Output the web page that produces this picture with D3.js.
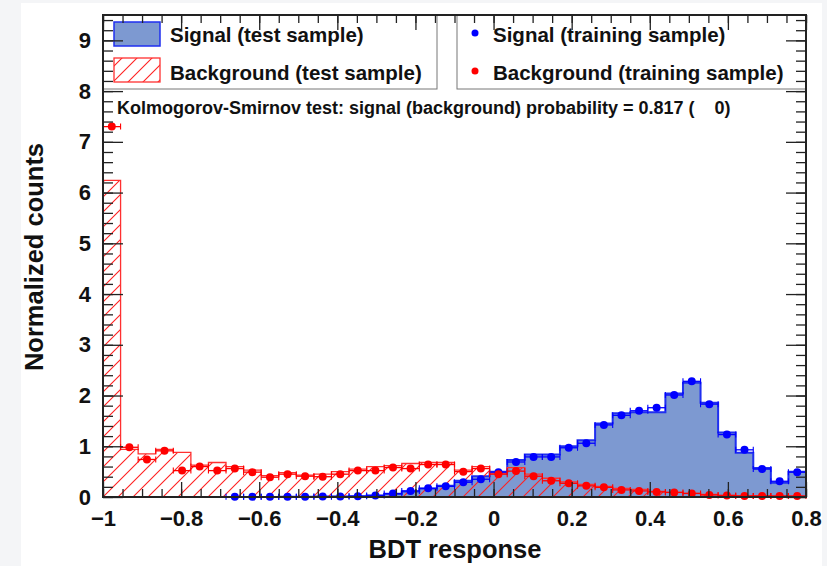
<!DOCTYPE html>
<html>
<head>
<meta charset="utf-8">
<title>BDT response</title>
<script src="https://d3js.org/d3.v7.min.js"></script>
<style>
  body { margin: 0; background: #f4f5f7; }
  svg { display: block; font-family: "Liberation Sans", Arial, sans-serif; }
  .tick text { font-weight: bold; font-size: 22px; fill: #111; }
  .tick line { stroke: #222; stroke-width: 1.3; }
  .domain { display: none; }
</style>
</head>
<body>
<script>
// 40 bins from -1 to 0.8
var xMin = -1, xMax = 0.8, nBins = 40;

var sigTest = [0, 0, 0, 0, 0, 0, 0, 0, 0, 0,
  0.003, 0.005, 0.008, 0.01, 0.015, 0.03, 0.06, 0.11, 0.17, 0.22,
  0.32, 0.41, 0.50, 0.73, 0.84, 0.84, 1.00, 1.12, 1.45, 1.65,
  1.67, 1.67, 2.04, 2.25, 1.86, 1.27, 0.87, 0.57, 0.28, 0.50];

var bgTest = [6.24, 0.94, 0.85, 0.94, 0.88, 0.63, 0.68, 0.60, 0.53, 0.42,
  0.48, 0.43, 0.45, 0.50, 0.55, 0.60, 0.62, 0.66, 0.68, 0.68,
  0.53, 0.60, 0.47, 0.58, 0.45, 0.37, 0.30, 0.25, 0.21, 0.17,
  0.15, 0.11, 0.09, 0.07, 0.05, 0.03, 0.02, 0.02, 0.01, 0.01];

var sigTrain = [null, null, null, null, null, null, null, 0.003, 0.003, 0.004,
  0.005, 0.006, 0.008, 0.01, 0.015, 0.03, 0.07, 0.12, 0.17, 0.21,
  0.29, 0.35, 0.49, 0.69, 0.79, 0.79, 0.97, 1.06, 1.42, 1.61,
  1.70, 1.76, 2.01, 2.28, 1.83, 1.23, 0.93, 0.55, 0.31, 0.49];

var bgTrain = [7.30, 0.98, 0.74, 0.91, 0.52, 0.60, 0.52, 0.56, 0.49, 0.39,
  0.45, 0.41, 0.40, 0.45, 0.52, 0.52, 0.58, 0.56, 0.64, 0.64,
  0.50, 0.56, 0.45, 0.51, 0.41, 0.32, 0.27, 0.22, 0.19, 0.14,
  0.12, 0.10, 0.09, 0.07, 0.04, 0.03, 0.02, 0.02, 0.02, 0.02];

var xTicks = [-1, -0.8, -0.6, -0.4, -0.2, 0, 0.2, 0.4, 0.6, 0.8];
var yTicks = [0, 1, 2, 3, 4, 5, 6, 7, 8, 9];

var ksText = "Kolmogorov-Smirnov test: signal (background) probability = 0.817 (    0)";

var width = 827, height = 566;
var pL = 103, pR = 806, pT = 15, pB = 497;

var svg = d3.select("body").append("svg")
    .attr("width", width)
    .attr("height", height);

svg.append("rect")
    .attr("x", 21).attr("y", 3)
    .attr("width", 801).attr("height", 563)
    .attr("fill", "white");

var x = d3.scaleLinear().domain([xMin, xMax]).range([pL, pR]);
var y = d3.scaleLinear().domain([0, 9.5]).range([pB, pT]);

var binW = (xMax - xMin) / nBins;
var edge = function(i) { return xMin + i * binW; };

// hatch pattern for background
var defs = svg.append("defs");
var pat = defs.append("pattern")
    .attr("id", "hatch")
    .attr("patternUnits", "userSpaceOnUse")
    .attr("width", 15).attr("height", 15);
pat.append("path")
    .attr("d", "M-2,17 L17,-2 M-2,2 L2,-2 M13,17 L17,13")
    .attr("stroke", "#ff2020")
    .attr("stroke-width", 1.1)
    .attr("fill", "none");

function stepPoints(vals) {
  var pts = [[edge(0), 0]];
  vals.forEach(function(v, i) {
    pts.push([edge(i), v]);
    pts.push([edge(i + 1), v]);
  });
  pts.push([edge(nBins), 0]);
  return pts;
}

var line = d3.line()
    .x(function(d) { return x(d[0]); })
    .y(function(d) { return y(d[1]); });

var plot = svg.append("g");

// signal test histogram
plot.append("path")
    .attr("d", line(stepPoints(sigTest)))
    .attr("fill", "#7d99d1")
    .attr("stroke", "#1f2ff0")
    .attr("stroke-width", 2);

// background test histogram
plot.append("path")
    .attr("d", line(stepPoints(bgTest)))
    .attr("fill", "url(#hatch)")
    .attr("stroke", "#ff3030")
    .attr("stroke-width", 1.3);

// training points
function drawPoints(vals, color) {
  var data = vals.map(function(v, i) { return {i: i, v: v}; })
      .filter(function(d) { return d.v !== null; });
  var g = plot.append("g").selectAll("g")
      .data(data).enter().append("g");
  g.append("line")
      .attr("x1", function(d) { return x(edge(d.i)); })
      .attr("x2", function(d) { return x(edge(d.i + 1)); })
      .attr("y1", function(d) { return y(d.v); })
      .attr("y2", function(d) { return y(d.v); })
      .attr("stroke", color).attr("stroke-width", 1.3);
  [0, 1].forEach(function(k) {
    g.append("line")
        .attr("x1", function(d) { return x(edge(d.i + k)); })
        .attr("x2", function(d) { return x(edge(d.i + k)); })
        .attr("y1", function(d) { return y(d.v) - 3; })
        .attr("y2", function(d) { return y(d.v) + 3; })
        .attr("stroke", color).attr("stroke-width", 1.1);
  });
  g.append("circle")
      .attr("cx", function(d) { return x(edge(d.i) + binW / 2); })
      .attr("cy", function(d) { return y(d.v); })
      .attr("r", 4)
      .attr("fill", color);
}
drawPoints(sigTrain, "#0000ff");
drawPoints(bgTrain, "#ff0000");

// legends (ticks are drawn over them afterwards)
var leg = svg.append("g");
leg.append("rect").attr("x", pL).attr("y", pT).attr("width", 334).attr("height", 74)
    .attr("fill", "white").attr("stroke", "#777").attr("stroke-width", 1);
leg.append("rect").attr("x", 457).attr("y", pT).attr("width", pR - 457).attr("height", 74)
    .attr("fill", "white").attr("stroke", "#777").attr("stroke-width", 1);

leg.append("rect").attr("x", 114).attr("y", 22).attr("width", 46).attr("height", 24)
    .attr("fill", "#7d99d1").attr("stroke", "#1f2ff0").attr("stroke-width", 1.5);
leg.append("rect").attr("x", 114).attr("y", 58).attr("width", 46).attr("height", 24)
    .attr("fill", "url(#hatch)").attr("stroke", "#ff3030").attr("stroke-width", 1.3);
leg.append("circle").attr("cx", 475).attr("cy", 33).attr("r", 3.5).attr("fill", "#0000ff");
leg.append("circle").attr("cx", 475).attr("cy", 71).attr("r", 3.5).attr("fill", "#ff0000");

var legText = [
  ["Signal (test sample)", 170, 42],
  ["Background (test sample)", 170, 80],
  ["Signal (training sample)", 493, 42],
  ["Background (training sample)", 493, 80]
];
leg.selectAll(".lt").data(legText).enter().append("text")
    .attr("class", "lt")
    .attr("x", function(d) { return d[1]; })
    .attr("y", function(d) { return d[2]; })
    .attr("font-size", 20.5)
    .attr("font-weight", "bold")
    .attr("fill", "#111")
    .text(function(d) { return d[0]; });

// axes, ticks inside the frame
var xMinor = d3.range(0, 37).map(function(i) { return -1 + i * 0.05; });
var yMinor = d3.range(0, 48).map(function(i) { return i * 0.2; });

svg.append("g").attr("transform", "translate(0," + pB + ")")
    .call(d3.axisBottom(x).tickValues(xMinor).tickSize(-8).tickFormat(""));
svg.append("g").attr("transform", "translate(0," + pB + ")")
    .call(d3.axisBottom(x).tickValues(xTicks).tickSize(-15).tickPadding(13).tickFormat(d3.format("")));
svg.append("g").attr("transform", "translate(0," + pT + ")")
    .call(d3.axisTop(x).tickValues(xMinor).tickSize(-8).tickFormat(""));
svg.append("g").attr("transform", "translate(0," + pT + ")")
    .call(d3.axisTop(x).tickValues(xTicks).tickSize(-15).tickFormat(""));

svg.append("g").attr("transform", "translate(" + pL + ",0)")
    .call(d3.axisLeft(y).tickValues(yMinor).tickSize(-10).tickFormat(""));
svg.append("g").attr("transform", "translate(" + pL + ",0)")
    .call(d3.axisLeft(y).tickValues(yTicks).tickSize(-20).tickPadding(12).tickFormat(d3.format("d")));
svg.append("g").attr("transform", "translate(" + pR + ",0)")
    .call(d3.axisRight(y).tickValues(yMinor).tickSize(-10).tickFormat(""));
svg.append("g").attr("transform", "translate(" + pR + ",0)")
    .call(d3.axisRight(y).tickValues(yTicks).tickSize(-20).tickFormat(""));

// frame
svg.append("rect")
    .attr("x", pL).attr("y", pT)
    .attr("width", pR - pL).attr("height", pB - pT)
    .attr("fill", "none")
    .attr("stroke", "#222")
    .attr("stroke-width", 2);

svg.append("text")
    .attr("x", 117).attr("y", 114)
    .attr("font-size", 18)
    .attr("font-weight", "bold")
    .attr("fill", "#111")
    .style("white-space", "pre")
    .text(ksText);

// axis titles
svg.append("text")
    .attr("x", 455).attr("y", 558)
    .attr("text-anchor", "middle")
    .attr("font-size", 25.5)
    .attr("font-weight", "bold")
    .attr("fill", "#111")
    .text("BDT response");

svg.append("text")
    .attr("transform", "translate(43,257) rotate(-90)")
    .attr("text-anchor", "middle")
    .attr("font-size", 25.5)
    .attr("font-weight", "bold")
    .attr("fill", "#111")
    .text("Normalized counts");
</script>
</body>
</html>
